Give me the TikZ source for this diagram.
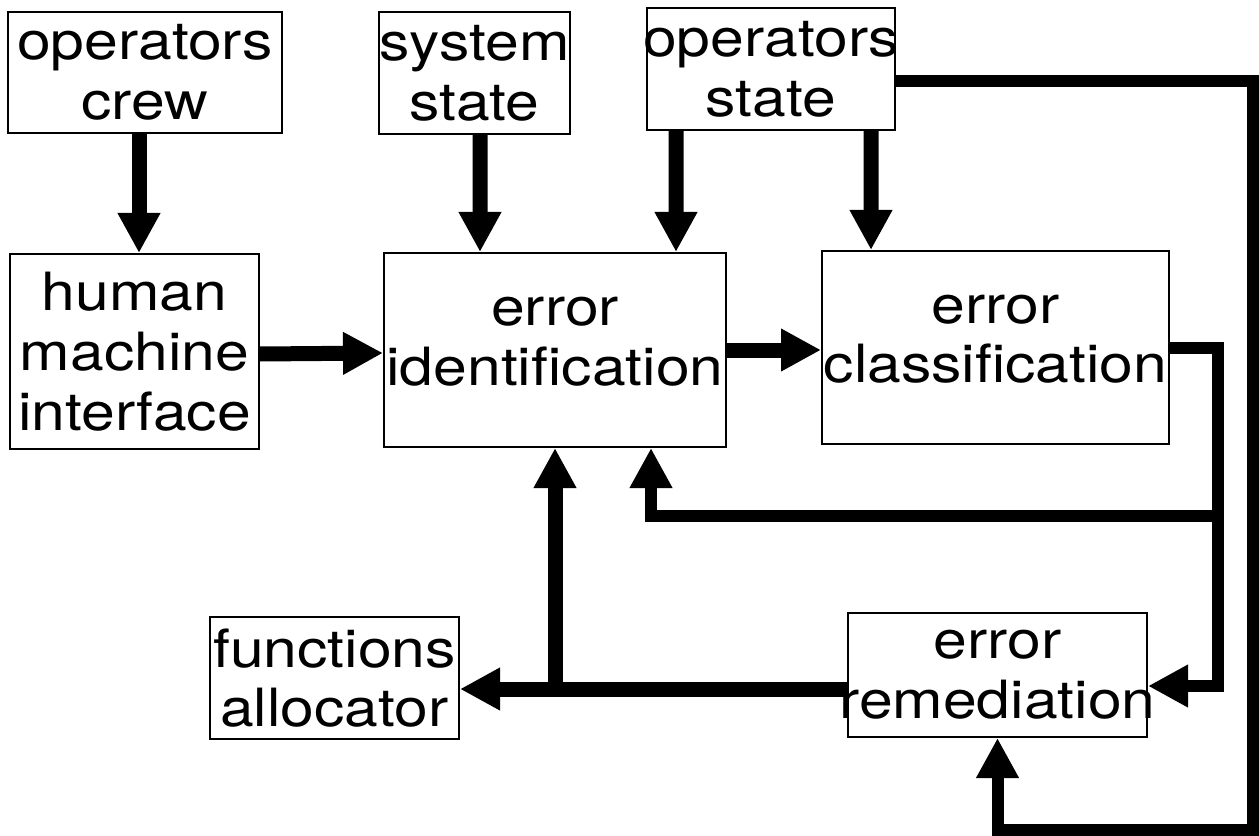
\documentclass[tikz,border=0pt]{standalone}
\usepackage{fontspec}
\setmainfont{TeX Gyre Heros}[FakeStretch=1.15]
\usepackage{tikz}
\usetikzlibrary{arrows.meta, positioning, calc}

\begin{document}
\begin{tikzpicture}[
    box/.style={draw, line width=0.04cm, inner sep=0pt, align=center, font=\fontsize{30}{34}\selectfont},
    flow/.style={line width=0.3cm, -{Triangle[length=0.8cm, width=0.8cm]}},
    loop/.style={line width=0.24cm, -{Triangle[length=0.8cm, width=0.8cm]}}
]
    \useasboundingbox (0,0) rectangle (25.18,-16.72);

    % Inputs
    \node[box, minimum width=5.48cm, minimum height=2.42cm] (crew) at (2.90,-1.45) {operators\\crew};
    \node[box, minimum width=3.70cm, minimum height=2.44cm] (sys) at (9.49,-1.46) {system\\state};
    \node[box, minimum width=4.96cm, minimum height=2.44cm, inner xsep=-0.2cm] (opst) at (15.42,-1.38) {operators\\state};

    % Main row
    \node[box, minimum width=4.98cm, minimum height=3.90cm] (hmi) at (2.69,-7.03) {human\\machine\\interface};
    \node[box, minimum width=6.84cm, minimum height=3.88cm, inner xsep=-0.2cm, text depth=0.35cm] (eid) at (11.10,-7.00) {error\\identification};
    \node[box, minimum width=6.94cm, minimum height=3.86cm, inner xsep=-0.2cm, text depth=0.35cm] (ec) at (19.91,-6.95) {error\\classification};

    % Bottom row
    \node[box, minimum width=4.98cm, minimum height=2.44cm] (fa) at (6.69,-13.56) {functions\\allocator};
    \node[box, minimum width=5.98cm, minimum height=2.48cm, inner xsep=-0.4cm] (er) at (19.95,-13.50) {error\\remediation};

    % Routing points
    \coordinate (rjoin) at (24.36,-10.32);
    \coordinate (rim) at (25.06,-16.60);
    \coordinate (bus) at ($(er.west)+(0,-0.28)$);

    % Downward inputs
    \draw[flow] ([xshift=-0.12cm]crew.south) -- ([xshift=0.09cm]hmi.north);
    \draw[flow] ([xshift=0.11cm]sys.south) -- ([xshift=-1.50cm]eid.north);
    \draw[flow] ([xshift=-1.90cm]opst.south) -- ([xshift=2.42cm]eid.north);
    \draw[flow] ([xshift=2.00cm]opst.south) -- ([xshift=-2.49cm]ec.north);

    % Forward chain
    \draw[flow] ([yshift=-0.05cm]hmi.east) -- ([yshift=-0.06cm]eid.west);
    \draw[flow] (eid.east) -- (eid.east -| ec.west);
    \draw[loop] (ec.east) -| (rjoin) |- ([yshift=-0.22cm]er.east);

    % Feedback
    \draw[loop] (rjoin) -| ([xshift=1.92cm]eid.south);
    \draw[flow] (bus) -- (bus -| fa.east);
    \draw[flow] (bus -| eid.south) -- (eid.south);
    \draw[loop] ([yshift=-0.24cm]opst.east) -| (rim) -| (er.south);

\end{tikzpicture}
\end{document}
